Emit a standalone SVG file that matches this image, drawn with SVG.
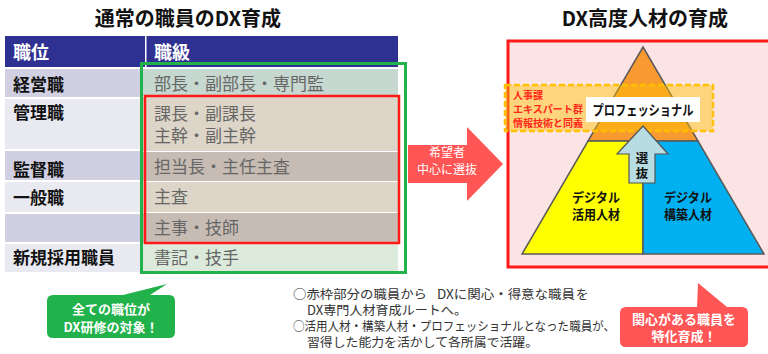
<svg xmlns="http://www.w3.org/2000/svg" width="768" height="354" viewBox="0 0 768 354">
<style>
text{font-family:"Noto Sans CJK JP","Noto Sans",sans-serif;}
.title{font-size:20px;font-weight:bold;fill:#111;}
.hd{font-size:18px;font-weight:bold;fill:#fff;}
.lc{font-size:17px;font-weight:bold;fill:#111;}
.rc{font-size:17px;fill:#666;}
.dk{fill:#d0d0e2;}
.lt{fill:#e9e9f1;}
.pl{font-size:13px;font-weight:bold;fill:#111;text-anchor:middle;}
.note{font-size:12.5px;fill:#333;}
.cw{font-size:13px;font-weight:bold;fill:#fff;text-anchor:middle;}
.rd{font-size:10px;font-weight:bold;fill:#ff2a1a;}
</style>
<rect width="768" height="354" fill="#fff"/>

<g id="left-title"><text class="title" x="188" y="26" text-anchor="middle">通常の職員のDX育成</text></g>

<g id="table">
<rect x="5" y="36" width="393" height="31" fill="#2f3192"/>
<rect x="145" y="36" width="1.5" height="31" fill="#fff"/>
<text class="hd" x="13" y="59">職位</text>
<text class="hd" x="154" y="59">職級</text>

<rect class="dk" x="5" y="69" width="136" height="28"/>
<rect class="lt" x="5" y="99" width="136" height="50"/>
<rect class="dk" x="5" y="151" width="136" height="29"/>
<rect class="lt" x="5" y="182" width="136" height="30"/>
<rect class="dk" x="5" y="214" width="136" height="28"/>
<rect class="lt" x="5" y="244" width="136" height="28"/>
<text class="lc" x="13" y="91">経営職</text>
<text class="lc" x="13" y="119">管理職</text>
<text class="lc" x="13" y="176">監督職</text>
<text class="lc" x="13" y="204">一般職</text>
<text class="lc" x="13" y="264">新規採用職員</text>

<rect x="143" y="69" width="255" height="27" fill="#c6d8cf"/>
<rect x="143" y="97" width="255" height="54" fill="#ddd5c7"/>
<rect x="143" y="152" width="255" height="29" fill="#c7bcb4"/>
<rect x="143" y="182" width="255" height="30" fill="#ddd5c7"/>
<rect x="143" y="213" width="255" height="30" fill="#c7bcb4"/>
<rect x="143" y="244" width="255" height="28" fill="#dceadc"/>
<text class="rc" x="154" y="90">部長・副部長・専門監</text>
<text class="rc" x="154" y="120">課長・副課長</text>
<text class="rc" x="154" y="142">主幹・副主幹</text>
<text class="rc" x="154" y="173">担当長・主任主査</text>
<text class="rc" x="154" y="203">主査</text>
<text class="rc" x="154" y="234">主事・技師</text>
<text class="rc" x="154" y="264">書記・技手</text>
</g>

<g id="green-frame"><rect x="141.5" y="63.5" width="264" height="209" fill="none" stroke="#21b24b" stroke-width="3"/></g>
<g id="red-frame"><rect x="145" y="96" width="254" height="147" fill="none" stroke="#ff1a1a" stroke-width="2.5"/></g>

<g id="connectors">
<polygon points="408,145 467,145 467,127 503,164 467,201 467,183 408,183" fill="#ff5555"/>
</g>
<g id="arrow-label">
<text class="cw" x="447" y="157" style="font-size:12px;font-weight:normal">希望者</text>
<text class="cw" x="447" y="174" style="font-size:12px;font-weight:normal">中心に選抜</text>
</g>

<g id="right-title"><text class="title" x="645" y="26" text-anchor="middle">DX高度人材の育成</text></g>

<g id="right-frame"><rect x="508" y="41" width="262" height="226" fill="#fde4e4" stroke="#ff1a1a" stroke-width="3"/></g>

<g id="pyramid">
<path d="M643,47 L698,141 L588,141 Z" fill="#f89a30" stroke="#5a5a5a" stroke-width="1.5"/>
<path d="M588,141 L643,141 L643,254 L522,254 Z" fill="#ffff00" stroke="#5a5a5a" stroke-width="1.5"/>
<path d="M643,141 L698,141 L764,254 L643,254 Z" fill="#00b0f0" stroke="#5a5a5a" stroke-width="1.5"/>
<text class="pl" x="596" y="202" textLength="48" lengthAdjust="spacingAndGlyphs">デジタル</text>
<text class="pl" x="596" y="219" textLength="48" lengthAdjust="spacingAndGlyphs">活用人材</text>
<text class="pl" x="688" y="202" textLength="48" lengthAdjust="spacingAndGlyphs">デジタル</text>
<text class="pl" x="688" y="219" textLength="48" lengthAdjust="spacingAndGlyphs">構築人材</text>
</g>

<g id="professional">
<rect x="505" y="85" width="208" height="46" fill="#ffc000" fill-opacity="0.45" stroke="#ffc000" stroke-width="2.5" stroke-dasharray="6,3"/>
<text class="rd" x="513" y="99">人事課</text>
<text class="rd" x="513" y="113" textLength="70" lengthAdjust="spacingAndGlyphs">エキスパート群</text>
<text class="rd" x="513" y="127" textLength="70" lengthAdjust="spacingAndGlyphs">情報技術と同義</text>
<rect x="586" y="97" width="114" height="25" fill="#fff"/>
<text x="643" y="115" text-anchor="middle" textLength="101" lengthAdjust="spacingAndGlyphs" style="font-size:14px;font-weight:bold;fill:#111">プロフェッショナル</text>
</g>

<g id="select-arrow">
<polygon points="643,126 668,154 655,154 655,183 629,183 629,154 617,154" fill="#b7dde3" stroke="#555" stroke-width="1.2"/>
<text x="642" y="163" text-anchor="middle" style="font-size:12.5px;font-weight:bold;fill:#111">選</text>
<text x="642" y="178" text-anchor="middle" style="font-size:12.5px;font-weight:bold;fill:#111">抜</text>
</g>

<g id="green-callout">
<path d="M53,295 L123,295 L167,284 L150,295 L169,295 Q175,295 175,301 L175,332 Q175,338 169,338 L53,338 Q47,338 47,332 L47,301 Q47,295 53,295 Z" fill="#21b24b"/>
<text class="cw" x="111" y="314">全ての職位が</text>
<text class="cw" x="111" y="332">DX研修の対象！</text>
</g>

<g id="notes">
<text class="note" x="293" y="299" textLength="134" lengthAdjust="spacingAndGlyphs">○赤枠部分の職員から</text>
<text class="note" x="437" y="299" fill="#ff2a1a" textLength="138" lengthAdjust="spacingAndGlyphs">DXに関心・得意な職員</text>
<text class="note" x="576" y="299">を</text>
<text class="note" x="307" y="315" textLength="160" lengthAdjust="spacingAndGlyphs">DX専門人材育成ルートへ。</text>
<text class="note" x="293" y="331" textLength="322" lengthAdjust="spacingAndGlyphs">○活用人材・構築人材・プロフェッショナルとなった職員が、</text>
<text class="note" x="307" y="347" textLength="231" lengthAdjust="spacingAndGlyphs">習得した能力を活かして各所属で活躍。</text>
</g>

<g id="red-callout">
<path d="M626,307 L697,307 L698,283 L727,307 L742,307 Q748,307 748,313 L748,341 Q748,347 742,347 L626,347 Q620,347 620,341 L620,313 Q620,307 626,307 Z" fill="#ff5555"/>
<text class="cw" x="684" y="324">関心がある職員を</text>
<text class="cw" x="684" y="341">特化育成！</text>
</g>
</svg>
